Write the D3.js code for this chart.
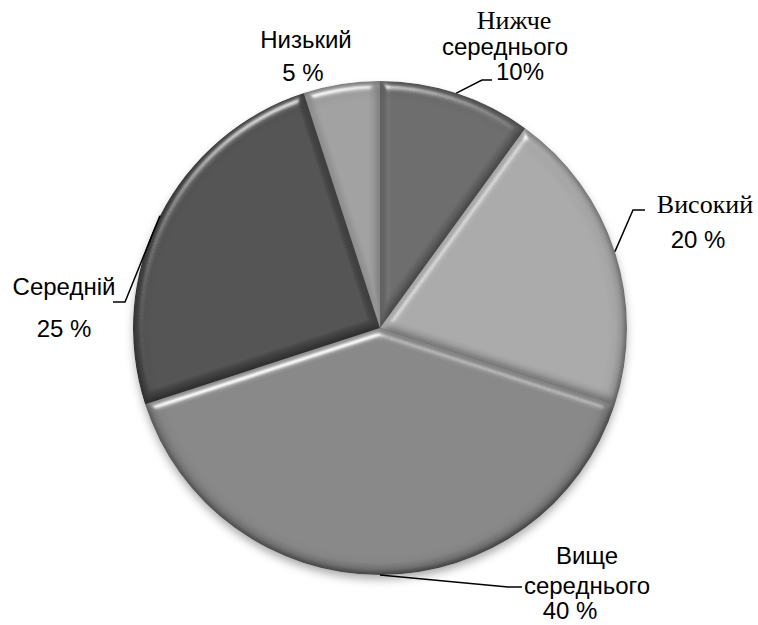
<!DOCTYPE html>
<html>
<head>
<meta charset="utf-8">
<script src="https://cdn.jsdelivr.net/npm/d3@7"></script>
<style>
  html, body { margin: 0; padding: 0; background: #ffffff; }
  svg { display: block; }
  .sans { font-family: "Liberation Sans", Arial, sans-serif; }
  .serif { font-family: "Liberation Serif", "Times New Roman", serif; }
</style>
</head>
<body>
<svg id="chart" width="758" height="625"></svg>
<script>
// Levels and their shares (per cent)
const categories = ["Нижче середнього", "Високий", "Вище середнього", "Середній", "Низький"];
const values = [10, 20, 40, 25, 5];
const valueLabels = ["10%", "20 %", "40 %", "25 %", "5 %"];

// Slice fills, in category order
const fills = ["#656565", "#a6a6a6", "#828282", "#464646", "#9c9c9c"];

const width = 758, height = 625;
const cx = 380, cy = 328, radius = 247;

const svg = d3.select("#chart");
const defs = svg.append("defs");

// Bevel: diffuse shading darkens edges turned from the light, specular adds a soft ridge
const bevel = defs.append("filter").attr("id", "bevel")
  .attr("x", "-20%").attr("y", "-20%").attr("width", "140%").attr("height", "140%");
bevel.append("feGaussianBlur").attr("in", "SourceAlpha").attr("stdDeviation", 4.5).attr("result", "blur");
const diff = bevel.append("feDiffuseLighting").attr("in", "blur")
  .attr("surfaceScale", 4).attr("diffuseConstant", 1.155)
  .attr("lighting-color", "#ffffff").attr("result", "diff");
diff.append("feDistantLight").attr("azimuth", 250).attr("elevation", 60);
bevel.append("feComposite").attr("in", "SourceGraphic").attr("in2", "diff")
  .attr("operator", "arithmetic").attr("k1", 1).attr("k2", 0).attr("k3", 0).attr("k4", 0).attr("result", "lit");
const spec = bevel.append("feSpecularLighting").attr("in", "blur")
  .attr("surfaceScale", 5).attr("specularConstant", 0.7).attr("specularExponent", 40)
  .attr("lighting-color", "#ffffff").attr("result", "spec");
spec.append("feDistantLight").attr("azimuth", 250).attr("elevation", 45);
bevel.append("feComposite").attr("in", "spec").attr("in2", "SourceAlpha").attr("operator", "in").attr("result", "specIn");
bevel.append("feComposite").attr("in", "lit").attr("in2", "specIn")
  .attr("operator", "arithmetic").attr("k1", 0).attr("k2", 1).attr("k3", 1).attr("k4", 0).attr("result", "sum");
bevel.append("feComposite").attr("in", "sum").attr("in2", "SourceAlpha").attr("operator", "in");

// Shadow under the whole pie
const shadow = defs.append("filter").attr("id", "shadow")
  .attr("x", "-20%").attr("y", "-20%").attr("width", "140%").attr("height", "140%");
shadow.append("feDropShadow").attr("dx", 0).attr("dy", 5).attr("stdDeviation", 5)
  .attr("flood-color", "#000000").attr("flood-opacity", 0.35);

// Darker rim toward the outer edge of every slice (pie-centred coordinates)
const rim = defs.append("radialGradient").attr("id", "rim")
  .attr("gradientUnits", "userSpaceOnUse")
  .attr("cx", 0).attr("cy", 0).attr("r", radius);
rim.append("stop").attr("offset", "0.92").attr("stop-color", "#000").attr("stop-opacity", 0);
rim.append("stop").attr("offset", "0.98").attr("stop-color", "#000").attr("stop-opacity", 0.06);
rim.append("stop").attr("offset", "1").attr("stop-color", "#000").attr("stop-opacity", 0.25);

const pie = d3.pie().sort(null).value(d => d)
  .startAngle(0).endAngle(2 * Math.PI);
const arcs = pie(values);
const arc = d3.arc().innerRadius(0).outerRadius(radius);

const pieG = svg.append("g").attr("transform", `translate(${cx},${cy})`);
pieG.append("g").attr("filter", "url(#shadow)")
  .append("circle").attr("r", radius - 1).attr("fill", "#6a6a6a");

pieG.selectAll("path.slice").data(arcs).join("path")
  .attr("class", "slice")
  .attr("d", arc)
  .attr("fill", (d, i) => fills[i])
  .attr("filter", "url(#bevel)");

pieG.selectAll("path.rim").data(arcs).join("path")
  .attr("class", "rim")
  .attr("d", arc)
  .attr("fill", "url(#rim)");

// Label layout: lines of text (anchor x, baseline y, font class) and the leader path's elbow/end
const labelLayout = [
  { lines: [["Нижче", 514, 29, "serif"], ["середнього", 505, 55, "sans"], [valueLabels[0], 520, 80, "sans"]],
    elbow: [482, 80], end: [492, 80] },
  { lines: [["Високий", 705, 213, "serif"], [valueLabels[1], 698, 248, "sans"]],
    elbow: [633, 210], end: [645, 210] },
  { lines: [["Вище", 587, 564, "sans"], ["середнього", 587, 594, "sans"], [valueLabels[2], 570, 619, "sans"]],
    elbow: [508, 587], end: [522, 587] },
  { lines: [["Середній", 64, 295, "sans"], [valueLabels[3], 64, 337, "sans"]],
    elbow: [125, 302], end: [113, 302] },
  { lines: [["Низький", 306, 48, "sans"], [valueLabels[4], 303, 81, "sans"]],
    elbow: null, end: null }
];

const labelG = svg.append("g");
arcs.forEach((a, i) => {
  const lay = labelLayout[i];
  if (lay.elbow) {
    const mid = (a.startAngle + a.endAngle) / 2;
    const sx = cx + Math.sin(mid) * radius;
    const sy = cy - Math.cos(mid) * radius;
    labelG.append("path")
      .attr("d", d3.line()([[sx, sy], lay.elbow, lay.end]))
      .attr("fill", "none").attr("stroke", "#000").attr("stroke-width", 1.5);
  }
  lay.lines.forEach(([t, x, y, cls]) => {
    labelG.append("text")
      .attr("class", cls)
      .attr("x", x).attr("y", y)
      .attr("text-anchor", "middle")
      .attr("font-size", cls === "serif" ? 26 : 24)
      .attr("fill", "#000")
      .text(t);
  });
});
</script>
</body>
</html>
